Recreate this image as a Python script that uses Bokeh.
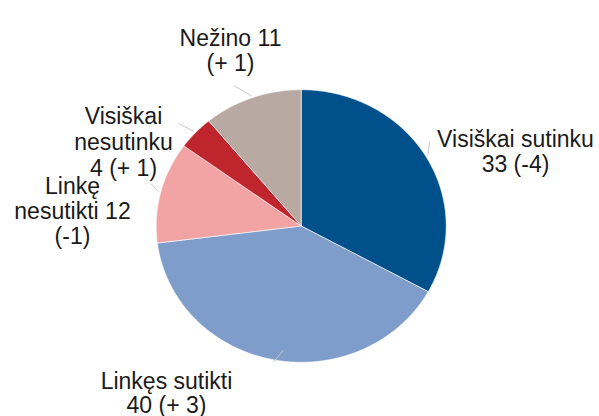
import numpy as np
from bokeh.plotting import figure
from bokeh.models import Range1d, ColumnDataSource
from bokeh.core.properties import value
from bokeh.embed import file_html
from bokeh.resources import INLINE

# ---- data ----
categories = ["Visiškai sutinku", "Linkęs sutikti", "Linkę nesutikti", "Visiškai nesutinku", "Nežino"]
values = [33, 40, 12, 4, 11]
changes = ["(-4)", "(+ 3)", "(-1)", "(+ 1)", "(+ 1)"]
colors = ["#00508C", "#7F9DCA", "#F2A4A4", "#BF252D", "#B8AAA2"]

# label lines (text as shown on the chart)
label_lines = [
    ["Visiškai sutinku", "33 (-4)"],
    ["Linkęs sutikti", "40 (+ 3)"],
    ["Linkę", "nesutikti 12", "(-1)"],
    ["Visiškai", "nesutinku", "4 (+ 1)"],
    ["Nežino 11", "(+ 1)"],
]

# ---- layout (image pixel coordinates, y downward) ----
W, H = 599, 416
CX, CY, RX, RY = 300.7, 225.5, 145.0, 136.3
label_pos = [  # (center x, first baseline y)
    (515, 138),
    (166, 380),
    (72, 185),
    (123, 115),
    (230, 37),
]
line_steps = [25, 24, 25, 26, 25.5]
leader_ends = [  # (dx, dy) from slice edge along leader
    (2, -14),
    (10, -12),
    (-8, -8),
    (-16, -8),
    (-17, -10),
]

p = figure(width=W, height=H, output_backend="svg", toolbar_location=None,
           x_range=Range1d(0, W), y_range=Range1d(H, 0),
           min_border=0)
p.axis.visible = False
p.grid.visible = False
p.outline_line_color = None
p.background_fill_color = "white"
p.border_fill_color = "white"

total = float(sum(values))
cum = np.cumsum([0] + values) / total * 2 * np.pi
xs, ys = [], []
for i in range(len(values)):
    t = np.linspace(cum[i], cum[i + 1], 120)
    px = np.concatenate([[CX], CX + RX * np.sin(t)])
    py = np.concatenate([[CY], CY - RY * np.cos(t)])
    xs.append(list(px))
    ys.append(list(py))

p.patches(xs=xs, ys=ys, fill_color=colors, line_color="white", line_width=0.6)

# leader lines
lx0, ly0, lx1, ly1 = [], [], [], []
for i in range(len(values)):
    mid = (cum[i] + cum[i + 1]) / 2
    ex = CX + (RX + 2) * np.sin(mid)
    ey = CY - (RY + 2) * np.cos(mid)
    lx0.append(ex); ly0.append(ey)
    lx1.append(ex + leader_ends[i][0]); ly1.append(ey + leader_ends[i][1])
p.segment(x0=lx0, y0=ly0, x1=lx1, y1=ly1, line_color="#C8C8C8", line_width=1)

# labels
tx, ty, tt = [], [], []
for (x0, y0), lines, step in zip(label_pos, label_lines, line_steps):
    for k, s in enumerate(lines):
        tx.append(x0); ty.append(y0 + k * step); tt.append(s)
src = ColumnDataSource(dict(x=tx, y=ty, text=tt))
p.text(x="x", y="y", text="text", source=src, text_align="center",
       text_baseline="alphabetic", text_font=value("Liberation Sans"),
       text_font_size="23px", text_color="#1a1a1a")

open("out.html", "w").write(file_html(p, INLINE))
